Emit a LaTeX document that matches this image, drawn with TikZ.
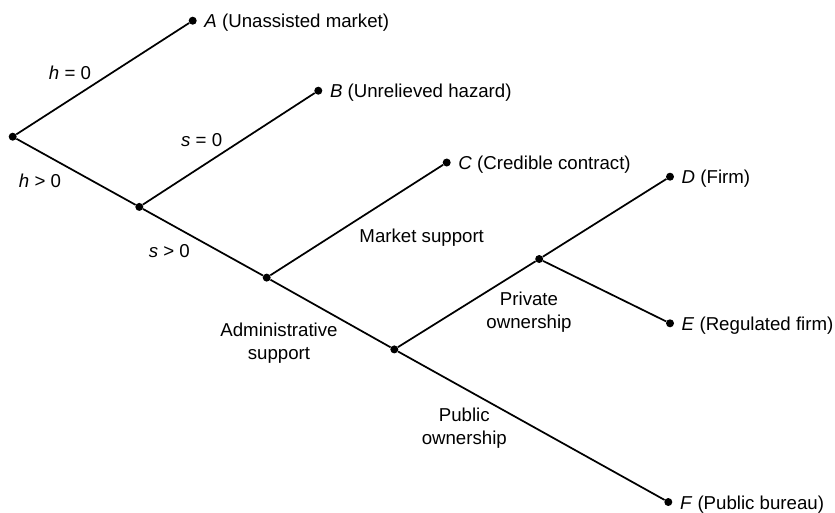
\documentclass[tikz,border=0pt]{standalone}
\usepackage{fontspec}
\setmainfont{Liberation Sans}
\begin{document}
\begin{tikzpicture}[x=0.75pt,y=-0.75pt,
  dot/.style={circle,fill=black,inner sep=0pt,minimum size=6pt},
  branch/.style={line width=1.3pt},
  leaf/.style={anchor=base west,inner sep=0pt,xshift=8.6pt,yshift=-5.4pt},
  lbl/.style={inner sep=0pt,align=center},
  font=\fontsize{14}{17}\selectfont]
\useasboundingbox (0,0) rectangle (835,512);

% decision points
\node[dot] (r)  at (12.7,136.7) {};
\node[dot] (n1) at (139.3,206.9) {};
\node[dot] (n2) at (266.7,277.6) {};
\node[dot] (n3) at (394.3,349.4) {};
\node[dot] (n4) at (539.2,259.0) {};

% outcomes
\node[dot] (A) at (192.7,20.7) {};
\node[dot] (B) at (318.3,90.7) {};
\node[dot] (C) at (446.7,162.5) {};
\node[dot] (D) at (670.0,176.7) {};
\node[dot] (E) at (670.0,323.3) {};
\node[dot] (F) at (668.3,502.0) {};

% branches
\draw[branch] (r) -- (A);
\draw[branch] (r) -- (n1);
\draw[branch] (n1) -- (B);
\draw[branch] (n1) -- (n2);
\draw[branch] (n2) -- (C);
\draw[branch] (n2) -- (n3);
\draw[branch] (n3) -- (n4);
\draw[branch] (n4) -- (D);
\draw[branch] (n4) -- (E);
\draw[branch] (n3) -- (F);

% outcome names
\node[leaf] (tA) at (A) {\textit{A} (Unassisted market)};
\node[leaf] (tB) at (B) {\textit{B} (Unrelieved hazard)};
\node[leaf] (tC) at (C) {\textit{C} (Credible contract)};
\node[leaf] (tD) at (D) {\textit{D} (Firm)};
\node[leaf] (tE) at (E) {\textit{E} (Regulated firm)};
\node[leaf] (tF) at (F) {\textit{F} (Public bureau)};

% branch conditions
\node[lbl] (l1) at (70,72.5)  {\textit{h} = 0};
\node[lbl] (l2) at (40,181)   {\textit{h} > 0};
\node[lbl] (l3) at (201.7,140) {\textit{s} = 0};
\node[lbl] (l4) at (169.3,251.5) {\textit{s} > 0};
\node[lbl] (l5) at (421.7,238) {Market support};
\node[lbl] (l6) at (279,343)   {Administrative\\support};
\node[lbl] (l7) at (529,312)   {Private\\ownership};
\node[lbl] (l8) at (464.3,428) {Public\\ownership};
\end{tikzpicture}
\end{document}
